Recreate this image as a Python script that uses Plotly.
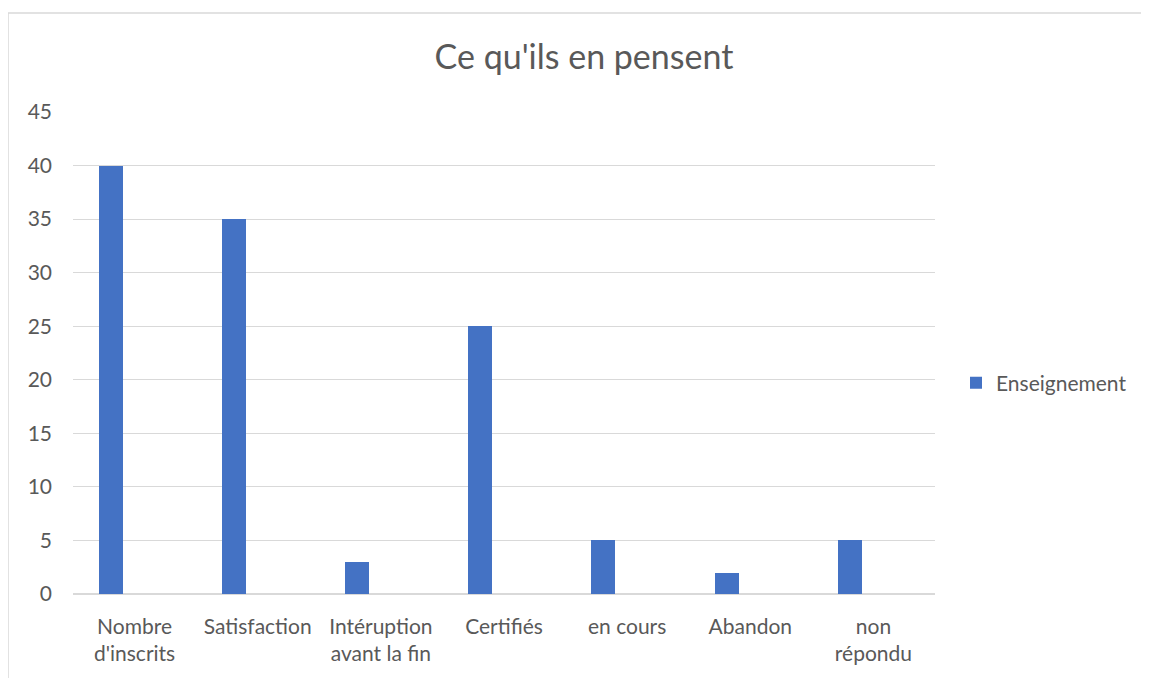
import plotly.graph_objects as go

categories = ["Nombre d'inscrits", "Satisfaction", "Intéruption avant la fin",
              "Certifiés", "en cours", "Abandon", "non répondu"]
tick_labels = ["Nombre<br>d'inscrits", "Satisfaction", "Intéruption<br>avant la fin",
               "Certifiés", "en cours", "Abandon", "non<br>répondu"]
values = [40, 35, 3, 25, 5, 2, 5]
series_name = "Enseignement"
y_ticks = [0, 5, 10, 15, 20, 25, 30, 35, 40, 45]

FONT = "Lato, 'Open Sans', sans-serif"
xs = list(range(len(categories)))

fig = go.Figure()
fig.add_trace(go.Bar(
    x=xs, y=values, name=series_name,
    marker=dict(color="#4472C4", line=dict(width=0)),
    width=0.195, offset=-0.29,
    showlegend=True,
))

fig.update_layout(
    width=1149, height=678,
    margin=dict(l=65, r=222, t=104, b=92),
    paper_bgcolor="white", plot_bgcolor="white",
    font=dict(family=FONT, color="#595959", size=21),
    title=dict(text="Ce qu'ils en pensent", x=(584 - 8) / 1149, xanchor="center",
               y=1 - (57 - 8) / 678, yanchor="middle",
               font=dict(family=FONT, size=34, color="#595959")),
    legend=dict(x=(948 - 65) / 862, y=(586 - 375) / 482, xanchor="left", yanchor="middle",
                font=dict(family=FONT, size=21, color="#595959"),
                itemwidth=30, bgcolor="rgba(0,0,0,0)"),
    bargap=0,
    xaxis=dict(
        tickmode="array", tickvals=xs, ticktext=tick_labels,
        range=[-0.5, len(categories) - 0.5],
        showgrid=False, zeroline=False, showline=False, ticks="",
        tickfont=dict(family=FONT, size=21, color="#595959"),
        ticklabelstandoff=18,
    ),
    yaxis=dict(
        range=[0, 45], tickvals=y_ticks,
        showgrid=True, gridcolor="#d9d9d9", gridwidth=1.3,
        zeroline=True, zerolinecolor="#d9d9d9", zerolinewidth=1.5,
        showline=False, ticks="",
        tickfont=dict(family=FONT, size=21, color="#595959"),
        ticklabelstandoff=20,
    ),
    shapes=[dict(
        type="rect", xref="paper", yref="paper",
        x0=(0 - 65) / 862, x1=(1160 - 65) / 862,
        y0=(586 - 700) / 482, y1=(586 - 5) / 482,
        line=dict(color="#d9d9d9", width=1.5), fillcolor="rgba(0,0,0,0)", layer="below",
    )],
)

fig.write_html("out.html")
